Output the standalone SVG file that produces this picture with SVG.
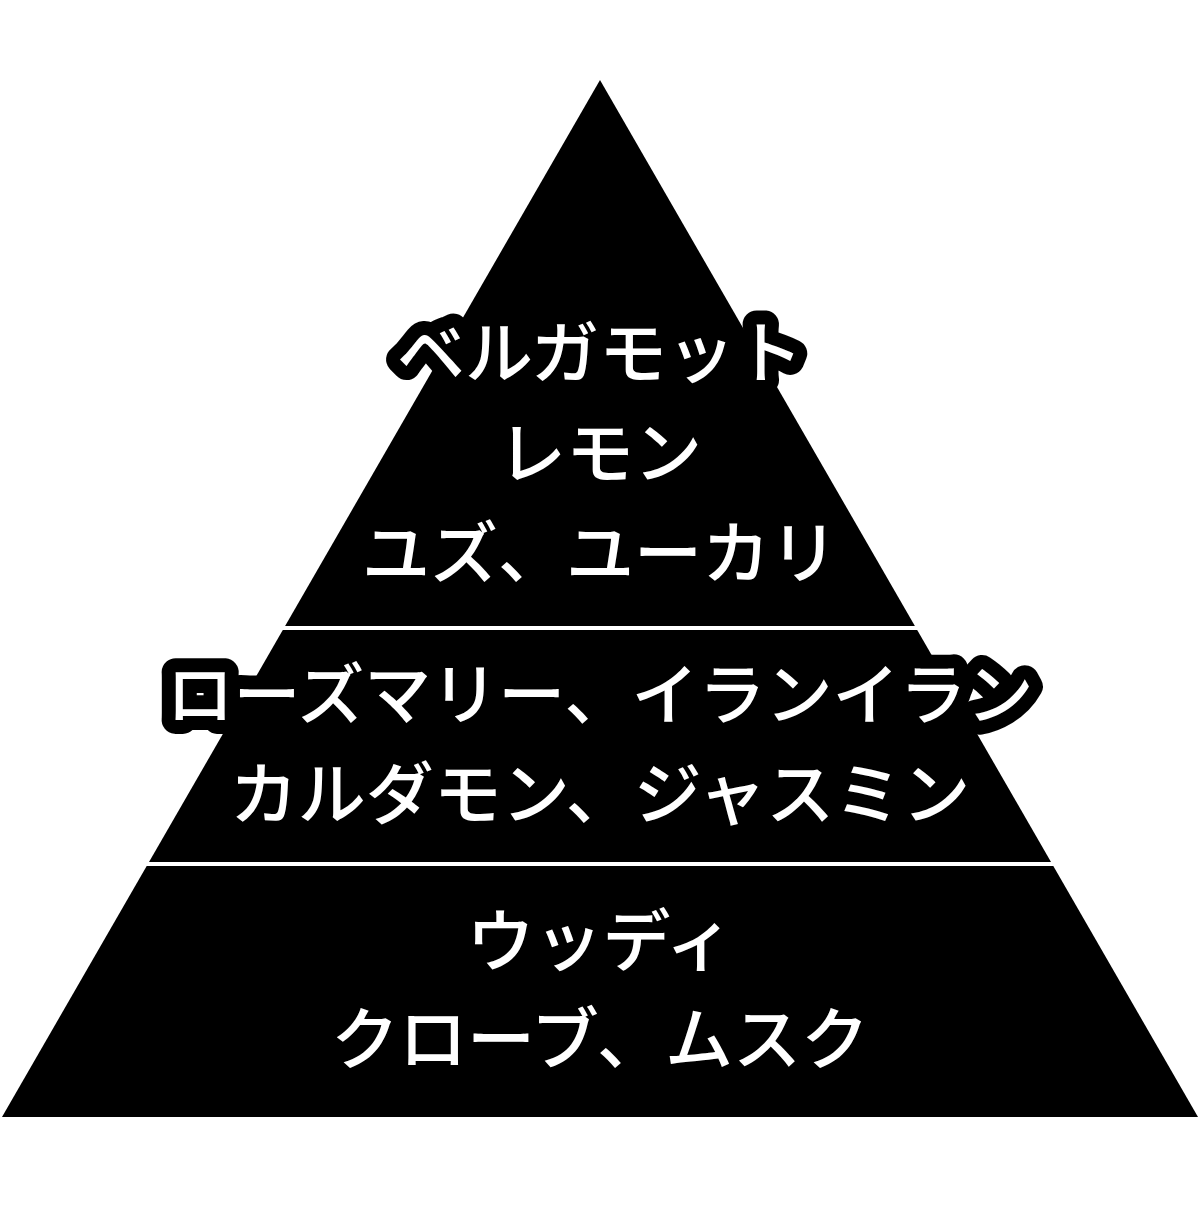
<svg xmlns="http://www.w3.org/2000/svg" width="1200" height="1220" viewBox="0 0 1200 1220">
  <style>
    .layer { fill: #000; }
    .label { font-family: "Noto Sans CJK JP", "Noto Sans", sans-serif; font-size: 68px; font-weight: 500; fill: #fff; stroke: #000; stroke-width: 28px; stroke-linejoin: round; paint-order: stroke; text-anchor: middle; }
    .narrow { font-size: 67px; }
  </style>
  <rect width="1200" height="1220" fill="#fff"/>
  <g id="top-layer">
    <polygon class="layer" points="600,80 914.9,626 285.1,626"/>
    <text class="label" x="600" y="378">ベルガモット</text>
    <text class="label" x="600" y="478">レモン</text>
    <text class="label" x="600" y="578">ユズ、ユーカリ</text>
  </g>
  <g id="middle-layer">
    <polygon class="layer" points="282.8,630 917.2,630 1051,862 149,862"/>
    <text class="label narrow" x="600" y="719">ローズマリー、イランイラン</text>
    <text class="label" x="600" y="819">カルダモン、ジャスミン</text>
  </g>
  <g id="bottom-layer">
    <polygon class="layer" points="146.7,866 1053.3,866 1198,1117 2,1117"/>
    <text class="label" x="600" y="966">ウッディ</text>
    <text class="label" x="600" y="1064">クローブ、ムスク</text>
  </g>
</svg>
